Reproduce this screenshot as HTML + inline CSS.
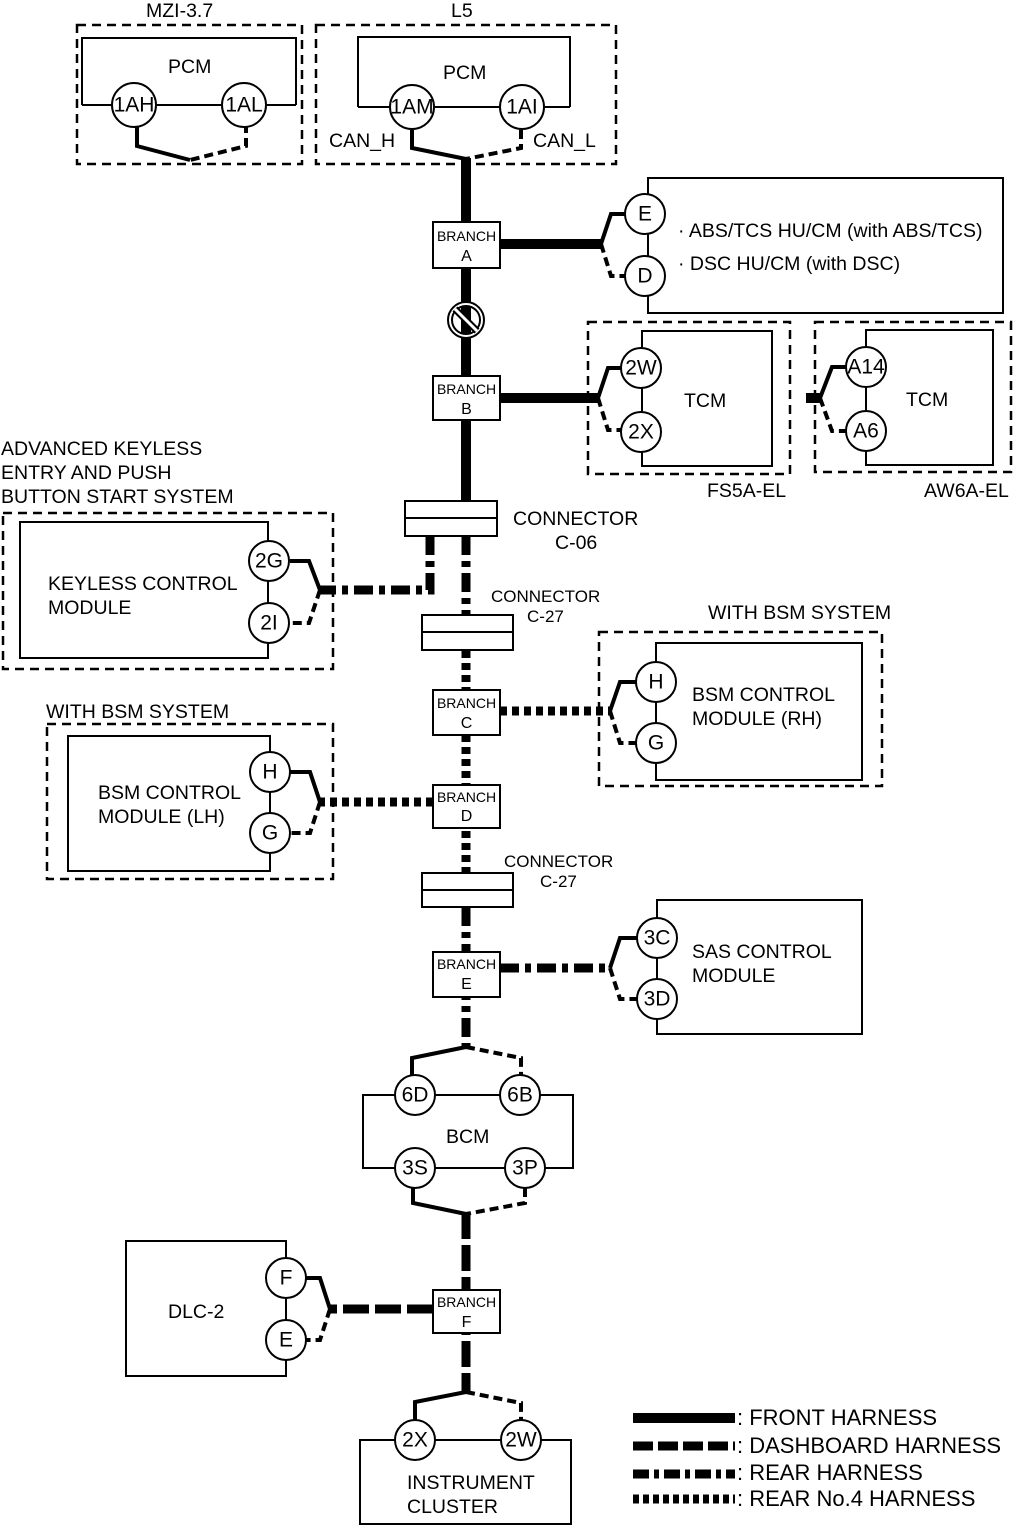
<!DOCTYPE html>
<html><head><meta charset="utf-8"><style>
html,body{margin:0;padding:0;background:#fff}
svg{display:block}
text{font-family:"Liberation Sans",Arial,sans-serif;fill:#000}
</style></head><body>
<svg width="1019" height="1526" viewBox="0 0 1019 1526" xmlns="http://www.w3.org/2000/svg">
<defs>
<style>
.box{fill:none;stroke:#000;stroke-width:2}
.enc{fill:none;stroke:#000;stroke-width:2.5;stroke-dasharray:9,6}
.c{fill:#fff;stroke:#000;stroke-width:2}
.ws{fill:none;stroke:#000;stroke-width:4}
.wd{fill:none;stroke:#000;stroke-width:4;stroke-dasharray:9,5}
.front{stroke:#000;stroke-width:10;fill:none}
.dash{stroke:#000;stroke-width:9;fill:none;stroke-dasharray:26,6}
.rear{stroke:#000;stroke-width:9;fill:none;stroke-dasharray:19,6,6,6}
.r4{stroke:#000;stroke-width:9;fill:none;stroke-dasharray:7,5}
.br{fill:#fff;stroke:#000;stroke-width:2}
.t{font-size:19.5px}
.ct{font-size:21px;text-anchor:middle;dominant-baseline:central}
.bt{font-size:14px;text-anchor:middle}
</style>
</defs>

<!-- MZI-3.7 -->
<text class="t" x="146" y="17">MZI-3.7</text>
<rect class="enc" x="77" y="25" width="225" height="139"/>
<polyline class="box" points="82,105 82,38 296,38 296,105"/>
<line class="box" x1="82" y1="105" x2="296" y2="105"/>
<text class="t" x="168" y="73">PCM</text>
<polyline class="ws" points="137,124 137,146 190,160"/>
<polyline class="wd" points="246,124 246,146 190,160"/>
<circle class="c" cx="134" cy="105" r="22"/><text class="ct" x="134" y="105">1AH</text>
<circle class="c" cx="244" cy="105" r="22"/><text class="ct" x="244" y="105">1AL</text>

<!-- L5 -->
<text class="t" x="451" y="17">L5</text>
<rect class="enc" x="316" y="25" width="300" height="139"/>
<polyline class="box" points="358,107 358,37 570,37 570,107"/>
<line class="box" x1="358" y1="107" x2="570" y2="107"/>
<text class="t" x="443" y="79">PCM</text>
<text class="t" x="329" y="147">CAN_H</text>
<text class="t" x="533" y="147">CAN_L</text>
<polyline class="ws" points="412,130 412,148 466,159"/>
<polyline class="wd" points="521,130 521,148 466,159"/>
<circle class="c" cx="412" cy="107" r="22"/><text class="ct" x="412" y="107">1AM</text>
<circle class="c" cx="522" cy="107" r="22"/><text class="ct" x="522" y="107">1AI</text>

<!-- Trunk front -->
<line class="front" x1="466" y1="158" x2="466" y2="502"/>
<circle cx="466" cy="320" r="16" fill="none" stroke="#000" stroke-width="6"/>
<circle cx="466" cy="320" r="16" fill="none" stroke="#fff" stroke-width="2"/>
<line x1="455" y1="309" x2="477" y2="331" stroke="#000" stroke-width="7"/>
<line x1="455" y1="309" x2="477" y2="331" stroke="#fff" stroke-width="3"/>

<!-- ABS -->
<polyline class="box" points="648,195 648,178 1003,178 1003,313 648,313 648,295"/>
<line class="box" x1="648" y1="233" x2="648" y2="257"/>
<line class="front" x1="500" y1="244" x2="601" y2="244"/>
<polyline class="ws" points="601,244 611,214 626,214"/>
<polyline class="wd" points="601,244 611,276 626,276"/>
<circle class="c" cx="645" cy="214" r="20"/><text class="ct" x="645" y="214">E</text>
<circle class="c" cx="645" cy="276" r="20"/><text class="ct" x="645" y="276">D</text>
<text class="t" x="678" y="237">·  ABS/TCS HU/CM (with ABS/TCS)</text>
<text class="t" x="678" y="270">·  DSC HU/CM (with DSC)</text>

<rect class="br" x="433" y="222" width="67" height="46"/>
<text class="bt" x="466.5" y="241">BRANCH</text><text class="bt" x="466.5" y="261" style="font-size:16px">A</text>

<!-- TCM FS5A -->
<rect class="enc" x="588" y="322" width="202" height="152"/>
<polyline class="box" points="642,349 642,331 772,331 772,466 642,466 642,450"/>
<line class="box" x1="642" y1="387" x2="642" y2="412"/>
<line class="front" x1="500" y1="398" x2="598" y2="398"/>
<polyline class="ws" points="598,398 608,368 621,368"/>
<polyline class="wd" points="598,398 608,430 621,430"/>
<circle class="c" cx="641" cy="368" r="20"/><text class="ct" x="641" y="368">2W</text>
<circle class="c" cx="641" cy="432" r="20"/><text class="ct" x="641" y="432">2X</text>
<text class="t" x="684" y="407">TCM</text>
<text class="t" x="707" y="497">FS5A-EL</text>

<!-- TCM AW6A -->
<rect class="enc" x="815" y="322" width="196" height="150"/>
<polyline class="box" points="866,348 866,330 993,330 993,465 866,465 866,450"/>
<line class="box" x1="866" y1="386" x2="866" y2="411"/>
<line class="front" x1="806" y1="398" x2="822" y2="398"/>
<polyline class="ws" points="820,398 832,367 846,367"/>
<polyline class="wd" points="820,398 832,431 846,431"/>
<circle class="c" cx="866" cy="367" r="20"/><text class="ct" x="866" y="367">A14</text>
<circle class="c" cx="866" cy="431" r="20"/><text class="ct" x="866" y="431">A6</text>
<text class="t" x="906" y="406">TCM</text>
<text class="t" x="924" y="497">AW6A-EL</text>

<rect class="br" x="433" y="376" width="67" height="44"/>
<text class="bt" x="466.5" y="394">BRANCH</text><text class="bt" x="466.5" y="414" style="font-size:16px">B</text>

<!-- Keyless -->
<text class="t" x="1" y="455">ADVANCED KEYLESS</text>
<text class="t" x="1" y="479">ENTRY AND PUSH</text>
<text class="t" x="1" y="503">BUTTON START SYSTEM</text>
<rect class="enc" x="3" y="513" width="330" height="156"/>
<polyline class="box" points="268,541 268,522 20,522 20,658 268,658 268,642"/>
<line class="box" x1="268" y1="580" x2="268" y2="604"/>
<text class="t" x="48" y="590">KEYLESS CONTROL</text>
<text class="t" x="48" y="614">MODULE</text>
<polyline class="rear" points="430,536 430,590 320,590"/>
<polyline class="ws" points="320,590 309,561 290,561"/>
<polyline class="wd" points="320,590 309,623 290,623"/>
<circle class="c" cx="269" cy="561" r="20"/><text class="ct" x="269" y="561">2G</text>
<circle class="c" cx="269" cy="623" r="20"/><text class="ct" x="269" y="623">2I</text>

<!-- Connector C-06 -->
<line class="rear" x1="466" y1="536" x2="466" y2="616"/>
<rect class="br" x="405" y="501" width="92" height="35"/>
<line class="box" x1="405" y1="518" x2="497" y2="518"/>
<text class="t" x="513" y="525">CONNECTOR</text>
<text class="t" x="555" y="549">C-06</text>

<!-- C-27 -->
<line class="r4" x1="466" y1="651" x2="466" y2="874"/>
<rect class="br" x="422" y="615" width="91" height="35"/>
<line class="box" x1="422" y1="632" x2="513" y2="632"/>
<text x="491" y="602" style="font-size:17px">CONNECTOR</text>
<text x="527" y="622" style="font-size:17px">C-27</text>

<!-- BSM RH -->
<text class="t" x="708" y="619">WITH BSM SYSTEM</text>
<rect class="enc" x="599" y="632" width="283" height="154"/>
<polyline class="box" points="656,662 656,643 862,643 862,780 656,780 656,763"/>
<line class="box" x1="656" y1="702" x2="656" y2="723"/>
<text class="t" x="692" y="701">BSM CONTROL</text>
<text class="t" x="692" y="725">MODULE (RH)</text>
<line class="r4" x1="500" y1="711" x2="612" y2="711"/>
<polyline class="ws" points="610,711 620,682 636,682"/>
<polyline class="wd" points="610,711 620,743 636,743"/>
<circle class="c" cx="656" cy="682" r="20"/><text class="ct" x="656" y="682">H</text>
<circle class="c" cx="656" cy="743" r="20"/><text class="ct" x="656" y="743">G</text>
<rect class="br" x="433" y="690" width="67" height="45"/>
<text class="bt" x="466.5" y="708">BRANCH</text><text class="bt" x="466.5" y="728" style="font-size:16px">C</text>

<!-- BSM LH -->
<text class="t" x="46" y="718">WITH BSM SYSTEM</text>
<rect class="enc" x="47" y="724" width="286" height="155"/>
<polyline class="box" points="270,752 270,736 68,736 68,871 270,871 270,853"/>
<line class="box" x1="270" y1="792" x2="270" y2="813"/>
<text class="t" x="98" y="799">BSM CONTROL</text>
<text class="t" x="98" y="823">MODULE (LH)</text>
<line class="r4" x1="433" y1="802" x2="318" y2="802"/>
<polyline class="ws" points="320,802 310,772 290,772"/>
<polyline class="wd" points="320,802 310,833 290,833"/>
<circle class="c" cx="270" cy="772" r="20"/><text class="ct" x="270" y="772">H</text>
<circle class="c" cx="270" cy="833" r="20"/><text class="ct" x="270" y="833">G</text>
<rect class="br" x="433" y="785" width="67" height="43"/>
<text class="bt" x="466.5" y="802">BRANCH</text><text class="bt" x="466.5" y="821" style="font-size:16px">D</text>

<!-- Connector C-27 2 -->
<line class="rear" x1="466" y1="907" x2="466" y2="1047"/>
<rect class="br" x="422" y="873" width="91" height="34"/>
<line class="box" x1="422" y1="890" x2="513" y2="890"/>
<text x="504" y="867" style="font-size:17px">CONNECTOR</text>
<text x="540" y="887" style="font-size:17px">C-27</text>

<!-- SAS -->
<polyline class="box" points="657,918 657,900 862,900 862,1034 657,1034 657,1019"/>
<line class="box" x1="657" y1="958" x2="657" y2="979"/>
<text class="t" x="692" y="958">SAS CONTROL</text>
<text class="t" x="692" y="982">MODULE</text>
<line class="rear" x1="500" y1="968" x2="612" y2="968"/>
<polyline class="ws" points="610,968 620,938 637,938"/>
<polyline class="wd" points="610,968 620,999 637,999"/>
<circle class="c" cx="657" cy="938" r="20"/><text class="ct" x="657" y="938">3C</text>
<circle class="c" cx="657" cy="999" r="20"/><text class="ct" x="657" y="999">3D</text>
<rect class="br" x="433" y="952" width="67" height="45"/>
<text class="bt" x="466.5" y="969">BRANCH</text><text class="bt" x="466.5" y="989" style="font-size:16px">E</text>

<!-- BCM -->
<polyline class="ws" points="466,1047 412,1058 412,1076"/>
<polyline class="wd" points="466,1047 521,1058 521,1076"/>
<polyline class="box" points="395,1095 363,1095 363,1168 395,1168"/>
<polyline class="box" points="540,1095 573,1095 573,1168 545,1168"/>
<line class="box" x1="435" y1="1095" x2="500" y2="1095"/>
<line class="box" x1="435" y1="1168" x2="505" y2="1168"/>
<text class="t" x="446" y="1143">BCM</text>
<circle class="c" cx="415" cy="1095" r="20"/><text class="ct" x="415" y="1095">6D</text>
<circle class="c" cx="520" cy="1095" r="20"/><text class="ct" x="520" y="1095">6B</text>
<polyline class="ws" points="413,1188 413,1203 466,1214"/>
<polyline class="wd" points="525,1188 525,1203 466,1214"/>
<circle class="c" cx="415" cy="1168" r="20"/><text class="ct" x="415" y="1168">3S</text>
<circle class="c" cx="525" cy="1168" r="20"/><text class="ct" x="525" y="1168">3P</text>

<!-- Dashboard trunk -->
<line class="dash" x1="466" y1="1213" x2="466" y2="1392"/>
<rect class="br" x="433" y="1290" width="67" height="43"/>
<text class="bt" x="466.5" y="1307">BRANCH</text><text class="bt" x="466.5" y="1327" style="font-size:16px">F</text>

<!-- DLC-2 -->
<polyline class="box" points="286,1258 286,1241 126,1241 126,1376 286,1376 286,1360"/>
<line class="box" x1="286" y1="1298" x2="286" y2="1320"/>
<text class="t" x="168" y="1318">DLC-2</text>
<line class="dash" x1="433" y1="1309" x2="330" y2="1309"/>
<polyline class="ws" points="330,1309 320,1278 306,1278"/>
<polyline class="wd" points="330,1309 320,1340 306,1340"/>
<circle class="c" cx="286" cy="1278" r="20"/><text class="ct" x="286" y="1278">F</text>
<circle class="c" cx="286" cy="1340" r="20"/><text class="ct" x="286" y="1340">E</text>

<!-- Instrument cluster -->
<polyline class="ws" points="466,1392 415,1402 415,1420"/>
<polyline class="wd" points="466,1392 521,1403 521,1420"/>
<polyline class="box" points="395,1440 360,1440 360,1524 571,1524 571,1440 541,1440"/>
<line class="box" x1="435" y1="1440" x2="501" y2="1440"/>
<circle class="c" cx="415" cy="1440" r="20"/><text class="ct" x="415" y="1440">2X</text>
<circle class="c" cx="521" cy="1440" r="20"/><text class="ct" x="521" y="1440">2W</text>
<text class="t" x="407" y="1489">INSTRUMENT</text>
<text class="t" x="407" y="1513">CLUSTER</text>

<!-- Legend -->
<line class="front" x1="633" y1="1418" x2="735" y2="1418"/>
<line class="dash" x1="633" y1="1446" x2="735" y2="1446" style="stroke-dasharray:20,5"/>
<line class="rear" x1="633" y1="1474" x2="735" y2="1474" style="stroke-dasharray:16,5,5,5"/>
<line class="r4" x1="633" y1="1499" x2="735" y2="1499" style="stroke-dasharray:6,4"/>
<text x="737" y="1425" style="font-size:22px">: FRONT HARNESS</text>
<text x="737" y="1453" style="font-size:22px">: DASHBOARD HARNESS</text>
<text x="737" y="1480" style="font-size:22px">: REAR HARNESS</text>
<text x="737" y="1506" style="font-size:22px">: REAR No.4 HARNESS</text>
</svg>
</body></html>
